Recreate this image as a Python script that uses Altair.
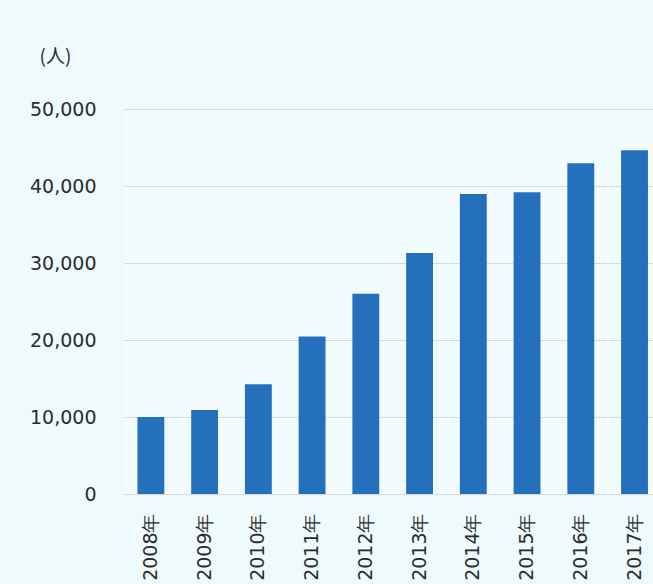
import altair as alt
import pandas as pd

years = ["2008年", "2009年", "2010年", "2011年", "2012年", "2013年", "2014年", "2015年", "2016年", "2017年"]
values = [10000, 10900, 14250, 20450, 26000, 31300, 38950, 39200, 42950, 44650]

df = pd.DataFrame({"year": years, "value": values})

FONT = "DejaVu Sans"

bars = alt.Chart(df).mark_bar(color="#2470bd").encode(
    x=alt.X(
        "year:N",
        sort=years,
        scale=alt.Scale(range=[0, 537.4], paddingInner=0.5, paddingOuter=0.25),
        axis=alt.Axis(
            title=None,
            labelAngle=270,
            labelFontSize=19,
            labelFont=FONT,
            labelColor="#2b2b2b",
            labelPadding=19,
            ticks=False,
            domain=False,
            grid=False,
        ),
    ),
    y=alt.Y(
        "value:Q",
        scale=alt.Scale(domain=[0, 50000], nice=False),
        axis=alt.Axis(
            values=[0, 10000, 20000, 30000, 40000, 50000],
            format=",d",
            title="(人)",
            titleAngle=0,
            titleAlign="center",
            titleBaseline="middle",
            titleX=-69,
            titleY=-53,
            titleFont="Noto Sans CJK JP",
            titleFontSize=19,
            titleFontWeight="normal",
            titleColor="#2b2b2b",
            labelFontSize=19,
            labelFont=FONT,
            labelColor="#2b2b2b",
            labelPadding=28,
            ticks=False,
            domain=False,
            grid=True,
            gridColor="#d9d9d9",
            gridWidth=1,
        ),
    ),
)

chart = bars.properties(
    width=529,
    height=385,
    autosize=alt.AutoSizeParams(type="none"),
    padding={"left": 124, "top": 109, "right": 0, "bottom": 90},
    background="#eefafb",
).configure_view(stroke=None, fill="#f2fcfc")

chart.save("out.html", embed_options={"renderer": "svg", "actions": False})
